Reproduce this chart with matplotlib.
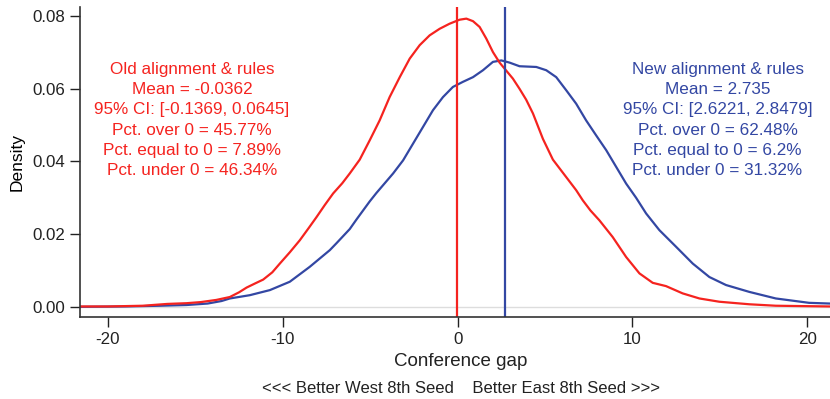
import matplotlib.pyplot as plt

plt.rcParams['font.family'] = ['Liberation Sans', 'DejaVu Sans']
plt.rcParams['axes.unicode_minus'] = False

# density curve for old alignment & rules
old_x = [-21.6, -20, -18, -16.6, -15.5, -14.7, -13.8, -13.03, -12.5, -12.07, -11.6, -11.12,
         -10.6, -10.17, -9.6, -9.03, -8.5, -8.07, -7.6, -7.12, -6.6, -6.17, -5.6, -5.03,
         -4.46, -3.89, -3.31, -2.74, -2.17, -1.6, -1.03, -0.46, 0.11, 0.50, 0.88, 1.26,
         1.64, 2.02, 2.40, 2.78, 3.16, 3.54, 3.92, 4.31, 4.88, 5.45, 6.21, 6.78, 7.16,
         7.6, 8.11, 8.87, 9.64, 10.4, 11.16, 11.92, 12.87, 13.83, 14.97, 16.69, 18.2, 21.3]
old_y = [0.0001, 0.0001, 0.0003, 0.0008, 0.0010, 0.0013, 0.0019, 0.0027, 0.0040, 0.0053, 0.0064, 0.0075,
         0.0095, 0.0119, 0.0150, 0.0183, 0.0218, 0.0247, 0.0280, 0.0312, 0.0340, 0.0367, 0.0405, 0.0458,
         0.0513, 0.0577, 0.0632, 0.0683, 0.0720, 0.0747, 0.0765, 0.0779, 0.0790, 0.0793, 0.0786, 0.0770,
         0.0738, 0.0701, 0.0672, 0.0650, 0.0628, 0.0600, 0.0570, 0.0532, 0.0462, 0.0405, 0.0357, 0.0321, 0.0293,
         0.0265, 0.0238, 0.0192, 0.0137, 0.0092, 0.0066, 0.0057, 0.0037, 0.0023, 0.0014, 0.0007, 0.0003, 0.0001]

# density curve for new alignment & rules
new_x = [-21.6, -19, -17, -15.5, -14.3, -13.5, -13.03, -11.89, -10.74, -9.6, -8.46, -7.31,
         -6.93, -6.17, -5.79, -5.03, -4.65, -3.69, -3.12, -2.55, -1.98, -1.41, -0.84, -0.27,
         0.30, 0.88, 1.45, 2.02, 2.50, 2.97, 3.54, 4.50, 5.07, 5.64, 6.21, 6.78, 7.35, 7.92,
         8.50, 9.07, 9.64, 10.21, 10.78, 11.54, 12.5, 13.45, 14.4, 15.35, 16.69, 18.2, 20.1, 21.3]
new_y = [0.0, 0.0001, 0.0003, 0.0005, 0.0009, 0.0016, 0.0023, 0.0032, 0.0046, 0.0069, 0.0110, 0.0156,
         0.0175, 0.0214, 0.0240, 0.0290, 0.0313, 0.0367, 0.0403, 0.0449, 0.0495, 0.0541, 0.0577, 0.0605,
         0.0619, 0.0632, 0.0651, 0.0674, 0.0678, 0.0672, 0.0662, 0.0660, 0.0651, 0.0632, 0.0596, 0.0559, 0.0513, 0.0472,
         0.0431, 0.0385, 0.0339, 0.0300, 0.0257, 0.0211, 0.0165, 0.0119, 0.0082, 0.0060, 0.0041, 0.0023, 0.0011, 0.0009]

old_mean = -0.0362
new_mean = 2.735

old_text = ["Old alignment & rules", "Mean = -0.0362", "95% CI: [-0.1369, 0.0645]",
            "Pct. over 0 = 45.77%", "Pct. equal to 0 = 7.89%", "Pct. under 0 = 46.34%"]
new_text = ["New alignment & rules", "Mean = 2.735", "95% CI: [2.6221, 2.8479]",
            "Pct. over 0 = 62.48%", "Pct. equal to 0 = 6.2%", "Pct. under 0 = 31.32%"]

red = '#f5231f'
blue = '#3347a3'

W, H = 830, 399
fig = plt.figure(figsize=(W / 100, H / 100), dpi=100)
ax = fig.add_axes([80 / W, 1 - 317 / H, 750 / W, 310 / H])

ax.axhline(0, color='#dddddd', lw=1, zorder=0)
ax.plot(new_x, new_y, color=blue, lw=1.6)
ax.plot(old_x, old_y, color=red, lw=1.6)
ax.axvline(old_mean, color=red, lw=1.6)
ax.axvline(new_mean, color=blue, lw=1.6)

ax.set_xlim(-21.6, 21.3)
ax.set_ylim(-0.0028, 0.0825)
ax.set_xticks([-20, -10, 0, 10, 20])
ax.set_yticks([0, 0.02, 0.04, 0.06, 0.08])
ax.set_yticklabels(['0.00', '0.02', '0.04', '0.06', '0.08'])
ax.tick_params(labelsize=12.2, length=7, width=1, colors='#222222')
for s in ['top', 'right']:
    ax.spines[s].set_visible(False)
for s in ['left', 'bottom']:
    ax.spines[s].set_color('#333333')
    ax.spines[s].set_linewidth(1.2)

ax.set_ylabel("Density", fontsize=12.5, labelpad=6)
fig.text(461 / W, 1 - 366 / H, "Conference gap", ha='center', va='baseline',
         fontsize=13.5, color='#222222')
fig.text(461 / W, 1 - 393 / H, "<<< Better West 8th Seed    Better East 8th Seed >>>",
         ha='center', va='baseline', fontsize=12.0, color='#222222')

for i, line in enumerate(old_text):
    fig.text(192 / W, 1 - (74 + 20.2 * i) / H, line, ha='center', va='baseline',
             color=red, fontsize=12.3)
for i, line in enumerate(new_text):
    fig.text(717.5 / W, 1 - (74 + 20.2 * i) / H, line, ha='center', va='baseline',
             color=blue, fontsize=12.3)

fig.savefig("out.png", dpi=100)
